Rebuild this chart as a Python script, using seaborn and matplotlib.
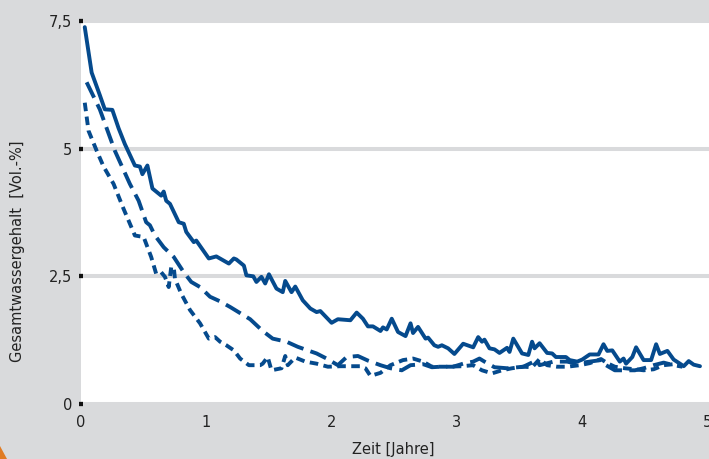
import matplotlib
matplotlib.use("Agg")
import matplotlib.pyplot as plt
import matplotlib.patches as mpatches
import pandas as pd
import seaborn as sns

# Gesamtwassergehalt [Vol.-%] ueber Zeit [Jahre], drei Verlaeufe
solid_x = [0.03, 0.085, 0.15, 0.19, 0.25, 0.30, 0.35, 0.43, 0.47, 0.49, 0.53, 0.57, 0.64, 0.66,
           0.68, 0.71, 0.78, 0.82, 0.84, 0.90, 0.92, 1.02, 1.08, 1.18, 1.22, 1.24, 1.30, 1.32,
           1.375, 1.40, 1.44, 1.47, 1.50, 1.56, 1.61, 1.63, 1.68, 1.71, 1.77, 1.83, 1.88, 1.91,
           2.00, 2.05, 2.15, 2.20, 2.25, 2.29, 2.33, 2.39, 2.41, 2.44, 2.48, 2.53, 2.59, 2.63,
           2.65, 2.69, 2.75, 2.77, 2.82, 2.85, 2.88, 2.93, 2.98, 3.05, 3.13, 3.17, 3.20, 3.22,
           3.26, 3.30, 3.34, 3.40, 3.42, 3.45, 3.52, 3.57, 3.60, 3.62, 3.66, 3.72, 3.76, 3.79,
           3.87, 3.90, 3.96, 4.00, 4.06, 4.13, 4.17, 4.20, 4.24, 4.30, 4.33, 4.35, 4.40, 4.43,
           4.49, 4.55, 4.59, 4.62, 4.68, 4.73, 4.78, 4.81, 4.85, 4.89, 4.94]
solid_y = [7.38, 6.49, 6.05, 5.77, 5.76, 5.40, 5.09, 4.67, 4.65, 4.50, 4.67, 4.22, 4.08, 4.16,
           3.98, 3.92, 3.56, 3.53, 3.37, 3.17, 3.20, 2.85, 2.89, 2.75, 2.85, 2.83, 2.71, 2.52,
           2.50, 2.39, 2.49, 2.36, 2.54, 2.26, 2.19, 2.41, 2.19, 2.30, 2.03, 1.87, 1.80, 1.82,
           1.59, 1.66, 1.64, 1.79, 1.67, 1.52, 1.52, 1.43, 1.50, 1.46, 1.67, 1.41, 1.33, 1.58,
           1.39, 1.51, 1.28, 1.30, 1.15, 1.12, 1.15, 1.09, 0.98, 1.18, 1.11, 1.31, 1.22, 1.26,
           1.09, 1.07, 1.00, 1.10, 1.02, 1.28, 0.99, 0.96, 1.22, 1.09, 1.19, 1.00, 0.99, 0.92,
           0.92, 0.86, 0.83, 0.87, 0.97, 0.97, 1.17, 1.04, 1.05, 0.83, 0.89, 0.79, 0.92, 1.11,
           0.86, 0.86, 1.17, 0.98, 1.04, 0.87, 0.79, 0.74, 0.84, 0.77, 0.74]

long_x = [0.045, 0.15, 0.27, 0.39, 0.46, 0.52, 0.55, 0.59, 0.66, 0.74, 0.82, 0.88, 0.95, 1.03,
          1.11, 1.19, 1.27, 1.35, 1.45, 1.53, 1.64, 1.73, 1.81, 1.88, 1.96, 2.05, 2.12, 2.21,
          2.29, 2.39, 2.47, 2.56, 2.63, 2.73, 2.80, 2.87, 2.97, 3.05, 3.13, 3.18, 3.22, 3.30,
          3.40, 3.53, 3.64, 3.66, 3.77, 3.88, 3.95, 4.06, 4.15, 4.19, 4.26, 4.34, 4.42, 4.49,
          4.57, 4.65, 4.73, 4.80]
long_y = [6.30, 5.77, 4.96, 4.31, 3.98, 3.56, 3.50, 3.30, 3.07, 2.88, 2.58, 2.39, 2.29, 2.10,
          2.01, 1.90, 1.78, 1.66, 1.43, 1.28, 1.22, 1.12, 1.05, 0.99, 0.89, 0.76, 0.92, 0.94,
          0.85, 0.76, 0.70, 0.66, 0.76, 0.78, 0.72, 0.73, 0.73, 0.79, 0.83, 0.89, 0.83, 0.72,
          0.70, 0.73, 0.86, 0.76, 0.83, 0.83, 0.79, 0.83, 0.86, 0.76, 0.66, 0.66, 0.66, 0.70,
          0.76, 0.81, 0.76, 0.73]

short_x = [0.03, 0.06, 0.125, 0.18, 0.26, 0.34, 0.38, 0.43, 0.50, 0.56, 0.60, 0.64, 0.67, 0.70,
           0.72, 0.74, 0.75, 0.80, 0.87, 0.95, 1.02, 1.07, 1.11, 1.16, 1.22, 1.27, 1.34, 1.43,
           1.45, 1.49, 1.52, 1.60, 1.63, 1.65, 1.71, 1.79, 1.88, 1.97, 2.07, 2.23, 2.27, 2.31,
           2.39, 2.47, 2.57, 2.65, 2.73, 2.80, 2.92, 3.04, 3.13, 3.20, 3.28, 3.36, 3.44, 3.53,
           3.60, 3.66, 3.72, 3.80, 3.88, 3.98, 4.06, 4.15, 4.20, 4.26, 4.34, 4.42, 4.49, 4.57,
           4.65, 4.73]
short_y = [5.90, 5.35, 4.96, 4.65, 4.31, 3.82, 3.59, 3.30, 3.27, 2.88, 2.55, 2.58, 2.49, 2.29,
           2.68, 2.68, 2.45, 2.16, 1.84, 1.58, 1.28, 1.31, 1.22, 1.15, 1.05, 0.89, 0.76, 0.76,
           0.79, 0.92, 0.66, 0.70, 0.94, 0.76, 0.91, 0.83, 0.79, 0.73, 0.74, 0.74, 0.70, 0.55,
           0.61, 0.76, 0.86, 0.89, 0.83, 0.73, 0.73, 0.74, 0.76, 0.66, 0.60, 0.66, 0.70, 0.73,
           0.72, 0.88, 0.76, 0.73, 0.73, 0.76, 0.80, 0.88, 0.80, 0.73, 0.70, 0.68, 0.66, 0.68,
           0.76, 0.78]

y_ticks = [0, 2.5, 5, 7.5]
y_tick_labels = ["0", "2,5", "5", "7,5"]
x_ticks = [0, 1, 2, 3, 4, 5]
x_tick_labels = ["0", "1", "2", "3", "4", "5"]

BG = "#d9dadc"
BLUE = "#054a8d"

sns.set_style("white")
plt.rcParams["font.family"] = ["Liberation Sans Narrow", "DejaVu Sans"]

fig = plt.figure(figsize=(7.09, 4.59), dpi=100, facecolor=BG)
ax = fig.add_axes([81 / 709, 1 - 404 / 459, 628 / 709, 383 / 459])
ax.set_facecolor("white")

df_solid = pd.DataFrame({"x": solid_x, "y": solid_y})
df_long = pd.DataFrame({"x": long_x, "y": long_y})
df_short = pd.DataFrame({"x": short_x, "y": short_y})

lw = 2.8
sns.lineplot(data=df_solid, x="x", y="y", ax=ax, color=BLUE, lw=lw, sort=False, zorder=3)
sns.lineplot(data=df_long, x="x", y="y", ax=ax, color=BLUE, lw=lw, sort=False, zorder=3,
             linestyle=(0, (4.4, 1.9)))
sns.lineplot(data=df_short, x="x", y="y", ax=ax, color=BLUE, lw=lw, sort=False, zorder=3,
             linestyle=(0, (2.2, 1.4)))

ax.set_xlim(0, 628 / 125.3)
ax.set_ylim(0, 7.5)
ax.set_yticks(y_ticks)
ax.set_yticklabels(y_tick_labels)
ax.set_xticks(x_ticks)
ax.set_xticklabels(x_tick_labels)

ax.yaxis.grid(True, color=BG, lw=2.9, zorder=1)
ax.xaxis.grid(False)
ax.set_axisbelow(True)
for s in ax.spines.values():
    s.set_visible(False)

ax.tick_params(axis="y", direction="inout", length=2.6, width=3.1, color="#111111",
               pad=5, labelsize=10.5, labelcolor="#222222", left=True)
ax.tick_params(axis="x", length=0, pad=8, labelsize=10.5, labelcolor="#222222")

ax.set_xlabel("Zeit [Jahre]", fontsize=10.5, color="#222222")
ax.set_ylabel("Gesamtwassergehalt  [Vol.-%]", fontsize=10.5, color="#222222")
ax.xaxis.set_label_coords(0.497, -0.098)
ax.yaxis.set_label_coords(-0.089, 0.398)

# orange Ecke unten links
fig.patches.append(mpatches.Polygon([(0, 0), (0, 13 / 459), (7 / 709, 0)], closed=True,
                                    transform=fig.transFigure, color="#e07b24", lw=0))

fig.savefig("out.png", dpi=100, facecolor=BG)
